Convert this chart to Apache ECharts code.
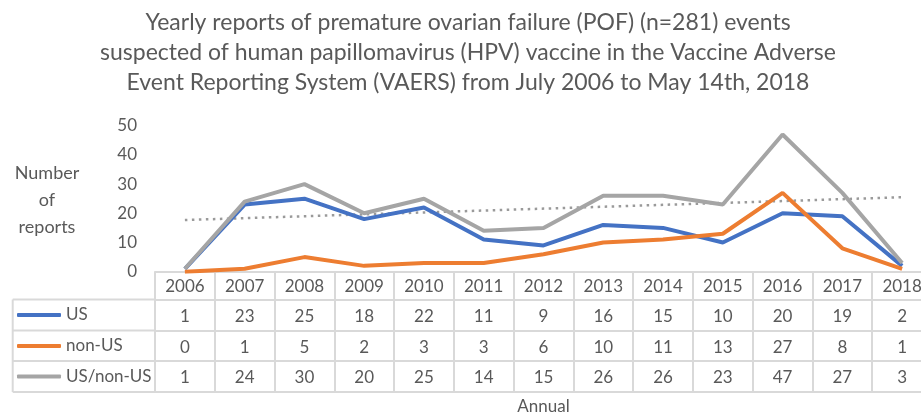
<!DOCTYPE html>
<html>
<head>
<meta charset="utf-8">
<script src="https://cdn.jsdelivr.net/npm/echarts@6/dist/echarts.min.js"></script>
<style>
  html, body { margin: 0; padding: 0; background: #fff; }
  #main { width: 921px; height: 417px; }
</style>
</head>
<body>
<div id="main"></div>
<script>
var years = ['2006', '2007', '2008', '2009', '2010', '2011', '2012', '2013', '2014', '2015', '2016', '2017', '2018'];
var usVals = [1, 23, 25, 18, 22, 11, 9, 16, 15, 10, 20, 19, 2];
var nonUsVals = [0, 1, 5, 2, 3, 3, 6, 10, 11, 13, 27, 8, 1];
var totalVals = [1, 24, 30, 20, 25, 14, 15, 26, 26, 23, 47, 27, 3];
// linear trend of US/non-US, end points
var trendVals = [17.7, null, null, null, null, null, null, null, null, null, null, null, 25.5];

var titleText = 'Yearly reports of premature ovarian failure (POF) (n=281) events\nsuspected of human papillomavirus (HPV) vaccine in the Vaccine Adverse\nEvent Reporting System (VAERS) from July 2006 to May 14th, 2018';

var FONT = 'Lato';
var TXT = '#595959';
var BORDER = '#d9d9d9';

var myChart = echarts.init(document.getElementById('main'));

// one category axis per table row, stacked under the plot
function tableAxis(offset, rowH, vals) {
	return {
		type: 'category',
		position: 'bottom',
		offset: offset,
		data: years,
		boundaryGap: true,
		axisLine: { show: true, lineStyle: { color: BORDER, width: 2 } },
		axisTick: { show: rowH > 0, interval: 0, length: rowH, lineStyle: { color: BORDER, width: 2 } },
		axisLabel: {
			show: !!vals,
			interval: 0,
			margin: rowH / 2 + 1,
			verticalAlign: 'middle',
			color: TXT,
			fontFamily: FONT,
			fontSize: 17,
			formatter: function (v, i) { return vals ? String(vals[i]) : ''; }
		},
		splitLine: { show: false }
	};
}

var xAxes = [
	tableAxis(0, 28, years),
	tableAxis(28, 31, usVals),
	tableAxis(59, 31, nonUsVals),
	tableAxis(89.5, 31, totalVals),
	tableAxis(120.5, 0, null)
];
xAxes[4].name = 'Annual';
xAxes[4].nameLocation = 'middle';
xAxes[4].nameGap = 6;
xAxes[4].nameTextStyle = { color: TXT, fontFamily: FONT, fontSize: 17 };

function legendRow(name, top) {
	return {
		data: [name],
		left: 17,
		top: top,
		padding: 0,
		icon: 'roundRect',
		itemWidth: 44,
		itemHeight: 4,
		selectedMode: false,
		textStyle: { color: TXT, fontFamily: FONT, fontSize: 17, lineHeight: 20 }
	};
}

option = {
	backgroundColor: '#fff',
	animation: false,
	legend: [
		legendRow('US', 305),
		legendRow('non-US', 336),
		legendRow('US/non-US', 366.5)
	],
	grid: {
		left: 155,
		right: -11,
		top: 125.7,
		bottom: 145.3,
		containLabel: false,
		outerBoundsMode: 'none'
	},
	xAxis: xAxes,
	yAxis: {
		type: 'value',
		min: 0,
		max: 50,
		interval: 10,
		axisLine: { show: false },
		axisTick: { show: false },
		splitLine: { show: false },
		axisLabel: { color: TXT, fontFamily: FONT, fontSize: 17, margin: 18 }
	},
	graphic: [
		{ type: 'text', x: 468, y: 8, style: { text: titleText, fill: TXT, font: '23px Lato', lineHeight: 30, align: 'center', verticalAlign: 'top' } },
		{ type: 'text', x: 47, y: 200, style: { text: 'Number\nof\nreports', fill: TXT, font: '18px Lato', lineHeight: 27, align: 'center', verticalAlign: 'middle' } },
		{ type: 'line', shape: { x1: 12.7, y1: 299.5, x2: 156, y2: 299.5 }, style: { stroke: BORDER, lineWidth: 2 } },
		{ type: 'line', shape: { x1: 12.7, y1: 330.5, x2: 156, y2: 330.5 }, style: { stroke: BORDER, lineWidth: 2 } },
		{ type: 'line', shape: { x1: 12.7, y1: 361, x2: 156, y2: 361 }, style: { stroke: BORDER, lineWidth: 2 } },
		{ type: 'line', shape: { x1: 12.7, y1: 392, x2: 156, y2: 392 }, style: { stroke: BORDER, lineWidth: 2 } },
		{ type: 'line', shape: { x1: 12.7, y1: 299.5, x2: 12.7, y2: 392 }, style: { stroke: BORDER, lineWidth: 2 } }
	],
	series: [{
			name: 'US',
			type: 'line',
			data: usVals,
			showSymbol: false,
			color: '#4472C4',
			lineStyle: { width: 4, color: '#4472C4' },
			z: 2
		}, {
			name: 'non-US',
			type: 'line',
			data: nonUsVals,
			showSymbol: false,
			color: '#ED7D31',
			lineStyle: { width: 4, color: '#ED7D31' },
			z: 3
		}, {
			name: 'US/non-US',
			type: 'line',
			data: totalVals,
			showSymbol: false,
			color: '#A5A5A5',
			lineStyle: { width: 4, color: '#A5A5A5' },
			z: 4
		}, {
			name: 'trend',
			type: 'line',
			data: trendVals,
			connectNulls: true,
			showSymbol: false,
			silent: true,
			lineStyle: { width: 2.5, color: '#9a9a9a', type: [2.5, 4.5] },
			z: 1
		}
	]
};

myChart.setOption(option);
</script>
</body>
</html>
